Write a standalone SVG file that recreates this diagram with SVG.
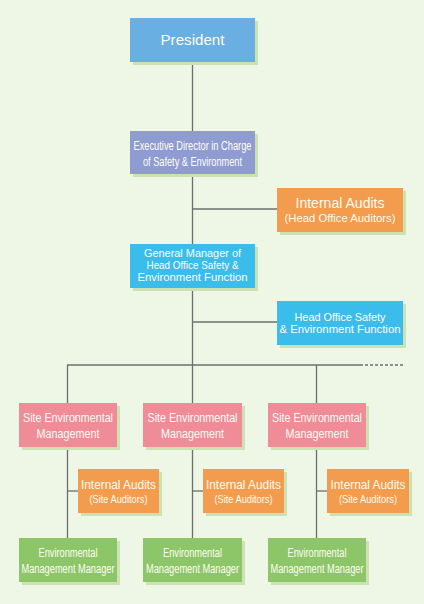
<svg xmlns="http://www.w3.org/2000/svg" width="424" height="604" viewBox="0 0 424 604">
<style>
  .bg{fill:#eef6e6}
  .sh{fill:#cde2b4}
  .t{font-family:"Liberation Sans",Arial,sans-serif;fill:#fffcf4;text-anchor:middle}
  .ln{stroke:#6e6e6e;stroke-width:1.3;fill:none}
  .blue{fill:#6aafe2}
  .purple{fill:#8f9cd2}
  .orange{fill:#f39c4d}
  .cyan{fill:#3bbdeb}
  .pink{fill:#f08b98}
  .green{fill:#8dc669}
</style>
<rect class="bg" x="0" y="0" width="424" height="604"/>
<g id="connectors">
  <path class="ln" d="M192.5 62V365"/>
  <path class="ln" d="M192.5 209H277"/>
  <path class="ln" d="M192.5 322H277"/>
  <path class="ln" d="M67 365H360"/>
  <path class="ln" d="M360 365H404" stroke-dasharray="3,2"/>
  <path class="ln" d="M67.5 365V538"/>
  <path class="ln" d="M192.5 365V538"/>
  <path class="ln" d="M316.5 365V538"/>
  <path class="ln" d="M67.5 491H78"/>
  <path class="ln" d="M192.5 491H203"/>
  <path class="ln" d="M316.5 491H327"/>
</g>
<g id="president">
  <rect class="sh" x="133" y="21" width="125" height="44"/>
  <rect class="blue" x="130" y="18" width="125" height="44"/>
  <text class="t" x="192.5" y="45" font-size="15" textLength="64" lengthAdjust="spacingAndGlyphs">President</text>
</g>
<g id="exec-director">
  <rect class="sh" x="133" y="134" width="125" height="43"/>
  <rect class="purple" x="130" y="131" width="125" height="43"/>
  <text class="t" x="192.5" y="150" font-size="12.5" textLength="118" lengthAdjust="spacingAndGlyphs">Executive Director in Charge</text>
  <text class="t" x="192.5" y="166" font-size="12.5" textLength="99" lengthAdjust="spacingAndGlyphs">of Safety &amp; Environment</text>
</g>
<g id="internal-audits-ho">
  <rect class="sh" x="280" y="191" width="126" height="44"/>
  <rect class="orange" x="277" y="188" width="126" height="44"/>
  <text class="t" x="340" y="208" font-size="14" textLength="89" lengthAdjust="spacingAndGlyphs">Internal Audits</text>
  <text class="t" x="340" y="222" font-size="11" textLength="111" lengthAdjust="spacingAndGlyphs">(Head Office Auditors)</text>
</g>
<g id="general-manager">
  <rect class="sh" x="133" y="247" width="125" height="44"/>
  <rect class="cyan" x="130" y="244" width="125" height="44"/>
  <text class="t" x="192.5" y="257" font-size="11" textLength="97" lengthAdjust="spacingAndGlyphs">General Manager of</text>
  <text class="t" x="192.5" y="269" font-size="11" textLength="92" lengthAdjust="spacingAndGlyphs">Head Office Safety &amp;</text>
  <text class="t" x="192.5" y="281" font-size="11" textLength="110" lengthAdjust="spacingAndGlyphs">Environment Function</text>
</g>
<g id="head-office-function">
  <rect class="sh" x="280" y="304" width="126" height="44"/>
  <rect class="cyan" x="277" y="301" width="126" height="44"/>
  <text class="t" x="340" y="321" font-size="11" textLength="91" lengthAdjust="spacingAndGlyphs">Head Office Safety</text>
  <text class="t" x="340" y="333" font-size="11" textLength="121" lengthAdjust="spacingAndGlyphs">&amp; Environment Function</text>
</g>
<g id="site-env-1">
  <rect class="sh" x="22" y="406" width="98" height="44"/>
  <rect class="pink" x="19" y="403" width="98" height="44"/>
  <text class="t" x="68" y="422" font-size="13" textLength="90" lengthAdjust="spacingAndGlyphs">Site Environmental</text>
  <text class="t" x="68" y="438" font-size="13" textLength="63" lengthAdjust="spacingAndGlyphs">Management</text>
</g>
<g id="site-env-2">
  <rect class="sh" x="146" y="406" width="99" height="44"/>
  <rect class="pink" x="143" y="403" width="99" height="44"/>
  <text class="t" x="192.5" y="422" font-size="13" textLength="90" lengthAdjust="spacingAndGlyphs">Site Environmental</text>
  <text class="t" x="192.5" y="438" font-size="13" textLength="63" lengthAdjust="spacingAndGlyphs">Management</text>
</g>
<g id="site-env-3">
  <rect class="sh" x="271" y="406" width="98" height="44"/>
  <rect class="pink" x="268" y="403" width="98" height="44"/>
  <text class="t" x="317" y="422" font-size="13" textLength="90" lengthAdjust="spacingAndGlyphs">Site Environmental</text>
  <text class="t" x="317" y="438" font-size="13" textLength="63" lengthAdjust="spacingAndGlyphs">Management</text>
</g>
<g id="site-audits-1">
  <rect class="sh" x="81" y="472" width="81" height="44"/>
  <rect class="orange" x="78" y="469" width="81" height="44"/>
  <text class="t" x="118.5" y="489" font-size="13" textLength="75" lengthAdjust="spacingAndGlyphs">Internal Audits</text>
  <text class="t" x="118.5" y="503" font-size="10.5" textLength="58" lengthAdjust="spacingAndGlyphs">(Site Auditors)</text>
</g>
<g id="site-audits-2">
  <rect class="sh" x="206" y="472" width="81" height="44"/>
  <rect class="orange" x="203" y="469" width="81" height="44"/>
  <text class="t" x="243.5" y="489" font-size="13" textLength="75" lengthAdjust="spacingAndGlyphs">Internal Audits</text>
  <text class="t" x="243.5" y="503" font-size="10.5" textLength="58" lengthAdjust="spacingAndGlyphs">(Site Auditors)</text>
</g>
<g id="site-audits-3">
  <rect class="sh" x="330" y="472" width="82" height="44"/>
  <rect class="orange" x="327" y="469" width="82" height="44"/>
  <text class="t" x="368" y="489" font-size="13" textLength="75" lengthAdjust="spacingAndGlyphs">Internal Audits</text>
  <text class="t" x="368" y="503" font-size="10.5" textLength="58" lengthAdjust="spacingAndGlyphs">(Site Auditors)</text>
</g>
<g id="env-manager-1">
  <rect class="sh" x="22" y="541" width="98" height="44"/>
  <rect class="green" x="19" y="538" width="98" height="44"/>
  <text class="t" x="68" y="557" font-size="12.5" textLength="59" lengthAdjust="spacingAndGlyphs">Environmental</text>
  <text class="t" x="68" y="573" font-size="12.5" textLength="93" lengthAdjust="spacingAndGlyphs">Management Manager</text>
</g>
<g id="env-manager-2">
  <rect class="sh" x="146" y="541" width="99" height="44"/>
  <rect class="green" x="143" y="538" width="99" height="44"/>
  <text class="t" x="192.5" y="557" font-size="12.5" textLength="59" lengthAdjust="spacingAndGlyphs">Environmental</text>
  <text class="t" x="192.5" y="573" font-size="12.5" textLength="93" lengthAdjust="spacingAndGlyphs">Management Manager</text>
</g>
<g id="env-manager-3">
  <rect class="sh" x="271" y="541" width="98" height="44"/>
  <rect class="green" x="268" y="538" width="98" height="44"/>
  <text class="t" x="317" y="557" font-size="12.5" textLength="59" lengthAdjust="spacingAndGlyphs">Environmental</text>
  <text class="t" x="317" y="573" font-size="12.5" textLength="93" lengthAdjust="spacingAndGlyphs">Management Manager</text>
</g>
</svg>
